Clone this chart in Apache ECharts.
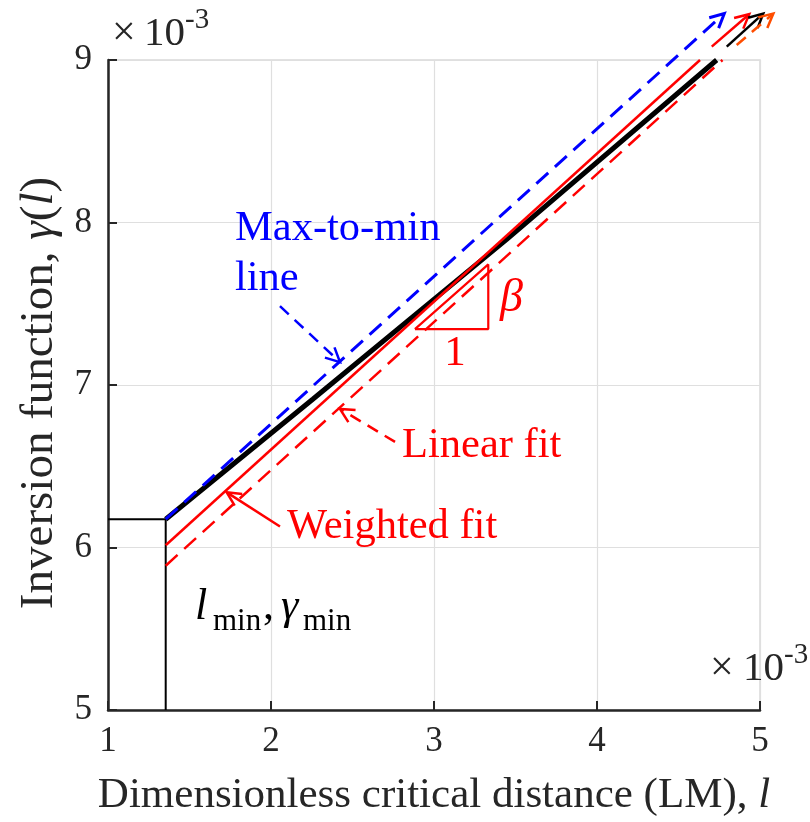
<!DOCTYPE html>
<html><head><meta charset="utf-8">
<script src="https://cdn.jsdelivr.net/npm/echarts@6/dist/echarts.min.js"></script>
<style>html,body{margin:0;padding:0;background:#fff;}#c{width:810px;height:822px;}</style>
</head><body><div id="c"></div>
<script>
// ---------- data (all values ×10^-3) ----------
const xTicks = [1, 2, 3, 4, 5];
const yTicks = [5, 6, 7, 8, 9];
// Inversion function γ(l) (thick black curve)
const invX = [1.354, 2.258, 3.446, 4.734];
const invY = [6.174, 6.914, 7.896, 9.000];
// minimum point (l_min, γ_min)
const lMin = 1.354;
const gMin = 6.174;
// Weighted fit (red solid)
const wFitX = [1.354, 4.632];
const wFitY = [6.014, 9.000];
// Linear fit (red dashed)
const linFitX = [1.354, 4.770];
const linFitY = [5.888, 9.000];
// Max-to-min line (blue dashed arrow): [x1, y1, x2, y2]
const maxMinLine = [1.354, 6.174, 4.781, 9.286];
// Slope triangle
const triX = [2.883, 3.333, 3.333, 2.883];
const triY = [7.344, 7.344, 7.742, 7.344];
// Arrows leaving the plot at the top: [x1, y1, x2, y2]
const topArrowRed = [4.704, 9.082, 4.934, 9.282];
const topArrowBlack = [4.796, 9.082, 5.020, 9.286];
const topArrowOrange = [4.857, 9.092, 5.082, 9.286];
// Annotation pointer arrows: [x1, y1, x2, y2]
const ptrMaxMin = [2.055, 7.485, 2.423, 7.141];
const ptrLinear = [2.761, 6.650, 2.423, 6.853];
const ptrWeighted = [2.055, 6.129, 1.728, 6.340];

const FONT = '"Liberation Serif", "Times New Roman", serif';
const AX = '#262626';

function zip(a, b) { return a.map((v, i) => [v, b[i]]); }

function arrowSeries(arrows, color, width, dash, z) {
  return {
    type: 'custom', coordinateSystem: 'cartesian2d', clip: false, silent: true, z: z || 3,
    data: arrows,
    encode: { x: [0, 2], y: [1, 3] },
    renderItem: function (params, api) {
      const p1 = api.coord([api.value(0), api.value(1)]);
      const p2 = api.coord([api.value(2), api.value(3)]);
      const dx = p2[0] - p1[0], dy = p2[1] - p1[1];
      const len = Math.hypot(dx, dy);
      const ux = dx / len, uy = dy / len;
      const L = 14, W = 7;
      const bx = p2[0] - ux * L, by = p2[1] - uy * L;
      const left = [bx - uy * W, by + ux * W];
      const right = [bx + uy * W, by - ux * W];
      return {
        type: 'group', children: [
          { type: 'line', shape: { x1: p1[0], y1: p1[1], x2: p2[0] - ux * 2, y2: p2[1] - uy * 2 },
            style: { stroke: color, lineWidth: width, lineDash: dash || null, fill: null } },
          { type: 'polyline', shape: { points: [left, [p2[0], p2[1]], right] },
            style: { stroke: color, lineWidth: width, fill: null, lineJoin: 'miter' } }
        ]
      };
    }
  };
}

function txt(text, x, baseline, size, color, italic, align) {
  return {
    type: 'text', x: x, y: baseline - 0.34 * size, silent: true, z: 100,
    style: {
      text: text, fill: color,
      font: (italic ? 'italic ' : '') + size + 'px ' + FONT,
      align: align || 'left', verticalAlign: 'middle',
      textAlign: align || 'left', textVerticalAlign: 'middle'
    }
  };
}

const chart = echarts.init(document.getElementById('c'), null, { renderer: 'canvas' });

const option = {
  animation: false,
  backgroundColor: '#fff',
  grid: { left: 108, top: 60, width: 652, height: 652, show: true,
          borderColor: '#d9d9d9', borderWidth: 1.5, backgroundColor: 'transparent' },
  xAxis: {
    type: 'value', min: xTicks[0], max: xTicks[xTicks.length - 1], interval: 1,
    axisLine: { show: true, onZero: false, lineStyle: { color: AX, width: 2.5 } },
    axisTick: { show: true, inside: true, length: 9, lineStyle: { color: AX, width: 2 } },
    axisLabel: { fontFamily: FONT, fontSize: 35, color: AX, margin: 14,
                 formatter: v => String(v) },
    splitLine: { show: true, lineStyle: { color: '#dfdfdf', width: 1.2 } },
    name: '{n|Dimensionless critical distance (LM), }{i|l}',
    nameLocation: 'middle', nameGap: 64,
    nameTextStyle: { rich: {
      n: { fontFamily: FONT, fontSize: 43, color: AX },
      i: { fontFamily: FONT, fontSize: 43, color: AX, fontStyle: 'italic' } } }
  },
  yAxis: {
    type: 'value', min: yTicks[0], max: yTicks[yTicks.length - 1], interval: 1,
    axisLine: { show: true, onZero: false, lineStyle: { color: AX, width: 2.5 } },
    axisTick: { show: true, inside: true, length: 9, lineStyle: { color: AX, width: 2 } },
    axisLabel: { fontFamily: FONT, fontSize: 35, color: AX, margin: 16,
                 formatter: v => String(v) },
    splitLine: { show: true, lineStyle: { color: '#dfdfdf', width: 1.2 } },
    name: '{n|Inversion function, }{i|γ}{n|(}{i|l}{n|)}',
    nameLocation: 'middle', nameGap: 45,
    nameTextStyle: { padding: [0, 16, 0, 0], rich: {
      n: { fontFamily: FONT, fontSize: 47, color: AX },
      i: { fontFamily: FONT, fontSize: 47, color: AX, fontStyle: 'italic' } } }
  },
  series: [
    { type: 'line', data: zip(invX, invY), symbol: 'none', silent: true, z: 2,
      lineStyle: { color: '#000', width: 5 } },
    { type: 'line', data: [[xTicks[0], gMin], [lMin, gMin], [lMin, yTicks[0]]], symbol: 'none',
      silent: true, z: 2, lineStyle: { color: '#000', width: 2 } },
    { type: 'line', data: zip(wFitX, wFitY), symbol: 'none', silent: true, z: 3,
      lineStyle: { color: '#ff0000', width: 2.5 } },
    { type: 'line', data: zip(linFitX, linFitY), symbol: 'none', silent: true, z: 3,
      lineStyle: { color: '#ff0000', width: 2.5, type: [16, 9] } },
    { type: 'line', data: zip(triX, triY), symbol: 'none', silent: true, z: 3,
      lineStyle: { color: '#ff0000', width: 2.2 } },
    arrowSeries([maxMinLine], '#0000ff', 3, [16, 9], 4),
    arrowSeries([ptrMaxMin], '#0000ff', 2.5, [12, 8], 4),
    arrowSeries([topArrowRed, ptrWeighted], '#ff0000', 2.5, null, 4),
    arrowSeries([ptrLinear], '#ff0000', 2.5, [12, 8], 4),
    arrowSeries([topArrowBlack], '#000000', 2.5, null, 4),
    arrowSeries([topArrowOrange], '#ff4d00', 2.5, [12, 8], 4)
  ],
  graphic: [
    // ×10^-3 top-left
    txt('×', 112, 48, 42, AX, false),
    txt('10', 144, 48, 41, AX, false),
    txt('-3', 185, 30, 29, AX, false),
    // ×10^-3 bottom-right
    txt('×', 710, 683, 42, AX, false),
    txt('10', 743, 683, 41, AX, false),
    txt('-3', 784, 665, 29, AX, false),
    // annotations
    txt('Max-to-min', 235, 243, 42.5, '#0000ff', false),
    txt('line', 235, 293, 42.5, '#0000ff', false),
    txt('Linear fit', 402, 460, 42.5, '#ff0000', false),
    txt('Weighted fit', 287, 541, 42.5, '#ff0000', false),
    txt('β', 500, 315, 46, '#ff0000', true),
    txt('1', 455, 368, 43, '#ff0000', false, 'center'),
    txt('l', 195, 622, 44, '#000', true),
    txt('min', 213, 632, 31, '#000', false),
    txt(',', 263, 622, 44, '#000', false),
    txt('γ', 281, 622, 44, '#000', true),
    txt('min', 303, 632, 31, '#000', false)
  ]
};
chart.setOption(option);
</script></body></html>
